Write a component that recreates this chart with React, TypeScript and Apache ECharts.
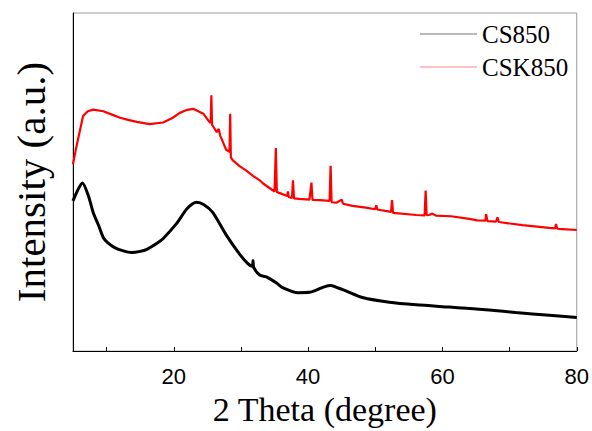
import React, { useEffect, useRef } from "react";
import * as echarts from "echarts";

// 2θ positions and intensities (a.u.)
const cs850X = [5.0, 5.7, 6.4, 7.3, 8.0, 8.8, 9.5, 10.2, 11.2, 12.5, 13.7, 15.0, 16.0, 17.5, 18.4, 20.4, 22.0, 23.4, 24.5, 25.8, 27.8, 29.8, 31.0, 31.7, 31.8, 31.9, 32.8, 33.8, 35.3, 36.2, 38.5, 40.2, 41.2, 42.5, 43.4, 44.5, 45.7, 48.1, 52.1, 56.1, 61.0, 66.0, 70.9, 75.9, 80.0];
const cs850Y = [156, 167, 174.5, 161, 144, 130.7, 118, 112.3, 107.5, 104, 102.3, 103.5, 105.7, 112, 116.7, 132.3, 148, 154.5, 152, 144, 120.7, 100.7, 91, 88, 94, 87, 79, 77, 70.7, 66, 60.7, 61, 63.3, 67, 68, 65.5, 62.3, 55.7, 50.7, 48, 45.7, 43.3, 40, 37.3, 35];

const csk850X = [5.0, 5.5, 6.5, 7.2, 8.0, 9.5, 11.0, 12.0, 13.2, 14.5, 16.4, 18.4, 19.8, 20.9, 22.0, 22.9, 24.4, 25.3, 25.5, 25.6, 25.7, 26.4, 26.7, 26.9, 27.8, 28.3, 28.4, 28.5, 28.8, 29.8, 30.8, 31.8, 32.8, 33.3, 35.0, 35.2, 35.35, 35.8, 36.9, 37.0, 37.1, 37.6, 37.75, 37.9, 38.7, 40.2, 40.5, 40.65, 41.7, 43.2, 43.35, 43.5, 44.2, 45.0, 45.2, 46.6, 48.6, 50.0, 50.15, 50.3, 52.35, 52.5, 52.65, 56.1, 57.35, 57.5, 57.65, 58.0, 58.5, 59.0, 61.3, 64.0, 65.2, 66.4, 66.5, 66.7, 68.0, 68.2, 68.4, 71.9, 75.9, 76.8, 76.9, 77.1, 77.9, 80.0];
const csk850Y = [194, 212, 244, 249, 250.7, 249, 245, 242.3, 240, 238, 235.7, 237.3, 242, 247.3, 250.5, 251.5, 246.5, 238, 237, 265.7, 235, 227.3, 230.7, 224, 209, 207, 246.5, 201, 198, 192, 187.3, 182, 177.3, 174, 165.7, 210.7, 165, 164, 161, 165.7, 160, 159, 177.3, 158.5, 158, 157.3, 175, 157, 156.7, 156, 192.3, 154.5, 154, 157.3, 153, 150.7, 149, 147.3, 151.3, 147, 144.5, 156.7, 143.5, 141.3, 141, 166.7, 141, 141.3, 142.7, 140.7, 140, 137.3, 135.7, 135.5, 142.3, 135, 134.5, 139, 134, 130.7, 128, 127.5, 132, 127, 126.7, 125.7];

const xTickValues = [10, 20, 30, 40, 50, 60, 70, 80];
const xLabelValues = [20, 40, 60, 80];

const seriesNames = ["CS850", "CSK850"];

export default function App() {
  const ref = useRef<HTMLDivElement>(null);
  useEffect(() => {
    if (!ref.current) return;
    const chart = echarts.init(ref.current, null, { renderer: "svg" });
    const serif = "Liberation Serif";
    chart.setOption({
      animation: false,
      backgroundColor: "#fff",
      grid: {
        left: 73,
        right: 14,
        top: 13,
        bottom: 67,
        show: true,
        borderColor: "#999",
        borderWidth: 1,
      },
      legend: {
        orient: "vertical",
        left: 415,
        top: 16,
        itemWidth: 57,
        itemHeight: 1,
        itemGap: 7,
        icon: "rect",
        textStyle: { fontFamily: serif, fontSize: 25, color: "#000", lineHeight: 26 },
        data: [
          { name: seriesNames[0], itemStyle: { color: "#777" } },
          { name: seriesNames[1], itemStyle: { color: "#f88" } },
        ],
      },
      xAxis: {
        type: "value",
        min: 5,
        max: 80,
        name: "2 Theta (degree)",
        nameLocation: "middle",
        nameGap: 29,
        nameTextStyle: { fontFamily: serif, fontSize: 34, color: "#000" },
        axisLine: { show: true, lineStyle: { color: "#000", width: 1 } },
        axisTick: { show: true, inside: true, length: 4, customValues: xTickValues, lineStyle: { color: "#000" } },
        axisLabel: { customValues: xLabelValues, fontFamily: "Liberation Sans", fontSize: 22, color: "#000", margin: 14 },
        splitLine: { show: false },
      },
      yAxis: {
        type: "value",
        min: 0,
        max: 351,
        name: "Intensity (a.u.)",
        nameLocation: "middle",
        nameGap: 22,
        nameTextStyle: { fontFamily: serif, fontSize: 41, color: "#000" },
        axisLine: { show: true, lineStyle: { color: "#000", width: 1 } },
        axisTick: { show: false },
        axisLabel: { show: false },
        splitLine: { show: false },
      },
      series: [
        {
          name: seriesNames[0],
          type: "line",
          showSymbol: false,
          symbol: "none",
          smooth: 0.25,
          data: cs850X.map((x, i) => [x, cs850Y[i]]),
          lineStyle: { color: "#000", width: 3 },
          itemStyle: { color: "#000" },
        },
        {
          name: seriesNames[1],
          type: "line",
          showSymbol: false,
          symbol: "none",
          data: csk850X.map((x, i) => [x, csk850Y[i]]),
          lineStyle: { color: "#f00", width: 2.2 },
          itemStyle: { color: "#f00" },
        },
      ],
    });
    return () => chart.dispose();
  }, []);
  return (
    <div
      ref={ref}
      style={{ position: "fixed", left: 0, top: 0, width: 592, height: 431 }}
    />
  );
}
